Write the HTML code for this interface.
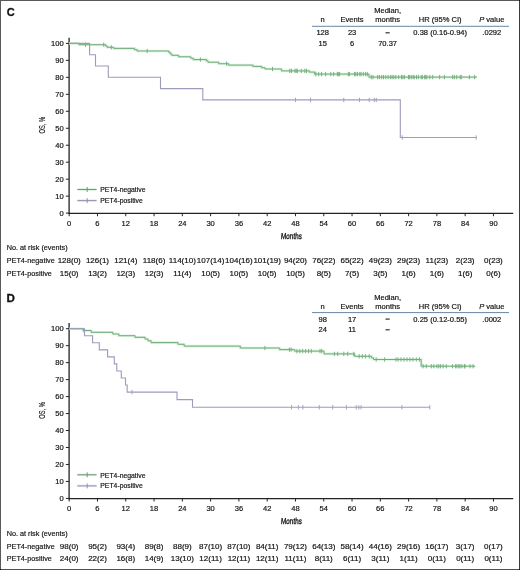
<!DOCTYPE html>
<html><head><meta charset="utf-8"><style>
html,body{margin:0;padding:0;background:#fff;}
body{width:520px;height:570px;overflow:hidden;}
svg{display:block;will-change:transform;}
text{font-family:"Liberation Sans", sans-serif;fill:#111;stroke:#111;stroke-width:0.18px;}
.t{font-size:7.55px;}
.r{font-size:7.25px;}
</style></head><body>
<svg width="520" height="570" viewBox="0 0 520 570">
<rect x="0" y="0" width="520" height="570" fill="#fff"/>
<text transform="translate(6.7 16.05) scale(0.96 1)" font-weight="bold" font-size="11.5" style="stroke-width:0.3px">C</text>
<text x="387.60" y="13.30" text-anchor="middle" font-size="7.55">Median,</text>
<text x="322.70" y="22.40" text-anchor="middle" font-size="7.55">n</text>
<text x="352.10" y="22.40" text-anchor="middle" font-size="7.55">Events</text>
<text x="387.60" y="22.40" text-anchor="middle" font-size="7.55">months</text>
<text x="440.20" y="22.40" text-anchor="middle" font-size="7.55">HR (95% CI)</text>
<text x="491.80" y="22.40" text-anchor="middle" font-size="7.55"><tspan font-style="italic">P</tspan> value</text>
<line x1="312" x2="509" y1="26.30" y2="26.30" stroke="#6a86a2" stroke-width="1"/>
<text x="322.70" y="35.40" text-anchor="middle" font-size="7.55">128</text>
<text x="352.10" y="35.40" text-anchor="middle" font-size="7.55">23</text>
<rect x="385.50" y="32.20" width="4.2" height="1.2" fill="#333"/>
<text x="440.20" y="35.40" text-anchor="middle" font-size="7.55">0.38 (0.16-0.94)</text>
<text x="491.80" y="35.40" text-anchor="middle" font-size="7.55">.0292</text>
<text x="322.70" y="45.90" text-anchor="middle" font-size="7.55">15</text>
<text x="352.10" y="45.90" text-anchor="middle" font-size="7.55">6</text>
<text x="387.60" y="45.90" text-anchor="middle" font-size="7.55">70.37</text>
<line x1="69.1" x2="69.1" y1="37.70" y2="214.00" stroke="#222" stroke-width="1.3"/>
<line x1="68.5" x2="513.2" y1="213.40" y2="213.40" stroke="#222" stroke-width="1.3"/>
<line x1="65.9" x2="69.1" y1="213.10" y2="213.10" stroke="#222" stroke-width="1"/>
<text x="63.70" y="215.70" text-anchor="end" font-size="7.55">0</text>
<line x1="65.9" x2="69.1" y1="196.13" y2="196.13" stroke="#222" stroke-width="1"/>
<text x="63.70" y="198.73" text-anchor="end" font-size="7.55">10</text>
<line x1="65.9" x2="69.1" y1="179.16" y2="179.16" stroke="#222" stroke-width="1"/>
<text x="63.70" y="181.76" text-anchor="end" font-size="7.55">20</text>
<line x1="65.9" x2="69.1" y1="162.19" y2="162.19" stroke="#222" stroke-width="1"/>
<text x="63.70" y="164.79" text-anchor="end" font-size="7.55">30</text>
<line x1="65.9" x2="69.1" y1="145.22" y2="145.22" stroke="#222" stroke-width="1"/>
<text x="63.70" y="147.82" text-anchor="end" font-size="7.55">40</text>
<line x1="65.9" x2="69.1" y1="128.25" y2="128.25" stroke="#222" stroke-width="1"/>
<text x="63.70" y="130.85" text-anchor="end" font-size="7.55">50</text>
<line x1="65.9" x2="69.1" y1="111.28" y2="111.28" stroke="#222" stroke-width="1"/>
<text x="63.70" y="113.88" text-anchor="end" font-size="7.55">60</text>
<line x1="65.9" x2="69.1" y1="94.31" y2="94.31" stroke="#222" stroke-width="1"/>
<text x="63.70" y="96.91" text-anchor="end" font-size="7.55">70</text>
<line x1="65.9" x2="69.1" y1="77.34" y2="77.34" stroke="#222" stroke-width="1"/>
<text x="63.70" y="79.94" text-anchor="end" font-size="7.55">80</text>
<line x1="65.9" x2="69.1" y1="60.37" y2="60.37" stroke="#222" stroke-width="1"/>
<text x="63.70" y="62.97" text-anchor="end" font-size="7.55">90</text>
<line x1="65.9" x2="69.1" y1="43.40" y2="43.40" stroke="#222" stroke-width="1"/>
<text x="63.70" y="46.00" text-anchor="end" font-size="7.55">100</text>
<line x1="69.20" x2="69.20" y1="213.40" y2="216.20" stroke="#222" stroke-width="1"/>
<text transform="translate(69.20 225.80) scale(0.97 1)" text-anchor="middle" font-size="7.8">0</text>
<line x1="97.48" x2="97.48" y1="213.40" y2="216.20" stroke="#222" stroke-width="1"/>
<text transform="translate(97.48 225.80) scale(0.97 1)" text-anchor="middle" font-size="7.8">6</text>
<line x1="125.77" x2="125.77" y1="213.40" y2="216.20" stroke="#222" stroke-width="1"/>
<text transform="translate(125.77 225.80) scale(0.97 1)" text-anchor="middle" font-size="7.8">12</text>
<line x1="154.05" x2="154.05" y1="213.40" y2="216.20" stroke="#222" stroke-width="1"/>
<text transform="translate(154.05 225.80) scale(0.97 1)" text-anchor="middle" font-size="7.8">18</text>
<line x1="182.34" x2="182.34" y1="213.40" y2="216.20" stroke="#222" stroke-width="1"/>
<text transform="translate(182.34 225.80) scale(0.97 1)" text-anchor="middle" font-size="7.8">24</text>
<line x1="210.62" x2="210.62" y1="213.40" y2="216.20" stroke="#222" stroke-width="1"/>
<text transform="translate(210.62 225.80) scale(0.97 1)" text-anchor="middle" font-size="7.8">30</text>
<line x1="238.90" x2="238.90" y1="213.40" y2="216.20" stroke="#222" stroke-width="1"/>
<text transform="translate(238.90 225.80) scale(0.97 1)" text-anchor="middle" font-size="7.8">36</text>
<line x1="267.19" x2="267.19" y1="213.40" y2="216.20" stroke="#222" stroke-width="1"/>
<text transform="translate(267.19 225.80) scale(0.97 1)" text-anchor="middle" font-size="7.8">42</text>
<line x1="295.47" x2="295.47" y1="213.40" y2="216.20" stroke="#222" stroke-width="1"/>
<text transform="translate(295.47 225.80) scale(0.97 1)" text-anchor="middle" font-size="7.8">48</text>
<line x1="323.76" x2="323.76" y1="213.40" y2="216.20" stroke="#222" stroke-width="1"/>
<text transform="translate(323.76 225.80) scale(0.97 1)" text-anchor="middle" font-size="7.8">54</text>
<line x1="352.04" x2="352.04" y1="213.40" y2="216.20" stroke="#222" stroke-width="1"/>
<text transform="translate(352.04 225.80) scale(0.97 1)" text-anchor="middle" font-size="7.8">60</text>
<line x1="380.32" x2="380.32" y1="213.40" y2="216.20" stroke="#222" stroke-width="1"/>
<text transform="translate(380.32 225.80) scale(0.97 1)" text-anchor="middle" font-size="7.8">66</text>
<line x1="408.61" x2="408.61" y1="213.40" y2="216.20" stroke="#222" stroke-width="1"/>
<text transform="translate(408.61 225.80) scale(0.97 1)" text-anchor="middle" font-size="7.8">72</text>
<line x1="436.89" x2="436.89" y1="213.40" y2="216.20" stroke="#222" stroke-width="1"/>
<text transform="translate(436.89 225.80) scale(0.97 1)" text-anchor="middle" font-size="7.8">78</text>
<line x1="465.18" x2="465.18" y1="213.40" y2="216.20" stroke="#222" stroke-width="1"/>
<text transform="translate(465.18 225.80) scale(0.97 1)" text-anchor="middle" font-size="7.8">84</text>
<line x1="493.46" x2="493.46" y1="213.40" y2="216.20" stroke="#222" stroke-width="1"/>
<text transform="translate(493.46 225.80) scale(0.97 1)" text-anchor="middle" font-size="7.8">90</text>
<text transform="translate(291.2 238.80) skewX(-4) scale(0.74 1)" text-anchor="middle" font-size="8.6" style="stroke-width:0.35px">Months</text>
<text transform="translate(45.0 125.20) rotate(-90) scale(0.62 1)" text-anchor="middle" font-size="9.2" style="stroke-width:0.15px">OS, %</text>
<path d="M69.2 43.40H79.00V44.70H105.60V46.00H107.20V47.30H113.70V48.40H134.50V49.70H137.20V51.00H168.80V52.40H170.30V53.90H171.80V55.30H178.50V56.80H190.80V58.20H193.30V59.60H206.50V60.90H208.00V62.20H218.60V63.70H228.60V65.10H252.90V66.40H261.50V67.70H265.00V69.00H281.50V70.90H309.40V72.10H314.60V74.10H369.00V77.10H476.90" fill="none" stroke="#d9f1dc" stroke-width="2.6"/>
<path d="M69.2 43.40H79.00V44.70H105.60V46.00H107.20V47.30H113.70V48.40H134.50V49.70H137.20V51.00H168.80V52.40H170.30V53.90H171.80V55.30H178.50V56.80H190.80V58.20H193.30V59.60H206.50V60.90H208.00V62.20H218.60V63.70H228.60V65.10H252.90V66.40H261.50V67.70H265.00V69.00H281.50V70.90H309.40V72.10H314.60V74.10H369.00V77.10H476.90" fill="none" stroke="#70ad79" stroke-width="1.0"/>
<line x1="85.50" x2="85.50" y1="42.50" y2="46.90" stroke="#70ad79" stroke-width="0.9"/>
<line x1="103.70" x2="103.70" y1="42.50" y2="46.90" stroke="#70ad79" stroke-width="0.9"/>
<line x1="111.30" x2="111.30" y1="45.10" y2="49.50" stroke="#70ad79" stroke-width="0.9"/>
<line x1="147.20" x2="147.20" y1="48.80" y2="53.20" stroke="#70ad79" stroke-width="0.9"/>
<line x1="200.40" x2="200.40" y1="57.40" y2="61.80" stroke="#70ad79" stroke-width="0.9"/>
<line x1="226.60" x2="226.60" y1="61.50" y2="65.90" stroke="#70ad79" stroke-width="0.9"/>
<line x1="272.50" x2="272.50" y1="66.80" y2="71.20" stroke="#70ad79" stroke-width="0.9"/>
<line x1="289.80" x2="289.80" y1="68.70" y2="73.10" stroke="#70ad79" stroke-width="0.9"/>
<line x1="291.50" x2="291.50" y1="68.70" y2="73.10" stroke="#70ad79" stroke-width="0.9"/>
<line x1="295.00" x2="295.00" y1="68.70" y2="73.10" stroke="#70ad79" stroke-width="0.9"/>
<line x1="296.20" x2="296.20" y1="68.70" y2="73.10" stroke="#70ad79" stroke-width="0.9"/>
<line x1="297.30" x2="297.30" y1="68.70" y2="73.10" stroke="#70ad79" stroke-width="0.9"/>
<line x1="301.30" x2="301.30" y1="68.70" y2="73.10" stroke="#70ad79" stroke-width="0.9"/>
<line x1="304.80" x2="304.80" y1="68.70" y2="73.10" stroke="#70ad79" stroke-width="0.9"/>
<line x1="306.50" x2="306.50" y1="68.70" y2="73.10" stroke="#70ad79" stroke-width="0.9"/>
<line x1="315.80" x2="315.80" y1="71.90" y2="76.30" stroke="#70ad79" stroke-width="0.9"/>
<line x1="318.70" x2="318.70" y1="71.90" y2="76.30" stroke="#70ad79" stroke-width="0.9"/>
<line x1="321.50" x2="321.50" y1="71.90" y2="76.30" stroke="#70ad79" stroke-width="0.9"/>
<line x1="325.60" x2="325.60" y1="71.90" y2="76.30" stroke="#70ad79" stroke-width="0.9"/>
<line x1="330.80" x2="330.80" y1="71.90" y2="76.30" stroke="#70ad79" stroke-width="0.9"/>
<line x1="333.70" x2="333.70" y1="71.90" y2="76.30" stroke="#70ad79" stroke-width="0.9"/>
<line x1="338.30" x2="338.30" y1="71.90" y2="76.30" stroke="#70ad79" stroke-width="0.9"/>
<line x1="337.30" x2="337.30" y1="71.90" y2="76.30" stroke="#70ad79" stroke-width="0.9"/>
<line x1="339.60" x2="339.60" y1="71.90" y2="76.30" stroke="#70ad79" stroke-width="0.9"/>
<line x1="348.30" x2="348.30" y1="71.90" y2="76.30" stroke="#70ad79" stroke-width="0.9"/>
<line x1="349.40" x2="349.40" y1="71.90" y2="76.30" stroke="#70ad79" stroke-width="0.9"/>
<line x1="354.60" x2="354.60" y1="71.90" y2="76.30" stroke="#70ad79" stroke-width="0.9"/>
<line x1="355.80" x2="355.80" y1="71.90" y2="76.30" stroke="#70ad79" stroke-width="0.9"/>
<line x1="357.50" x2="357.50" y1="71.90" y2="76.30" stroke="#70ad79" stroke-width="0.9"/>
<line x1="359.80" x2="359.80" y1="71.90" y2="76.30" stroke="#70ad79" stroke-width="0.9"/>
<line x1="361.00" x2="361.00" y1="71.90" y2="76.30" stroke="#70ad79" stroke-width="0.9"/>
<line x1="363.30" x2="363.30" y1="71.90" y2="76.30" stroke="#70ad79" stroke-width="0.9"/>
<line x1="365.60" x2="365.60" y1="71.90" y2="76.30" stroke="#70ad79" stroke-width="0.9"/>
<line x1="367.30" x2="367.30" y1="71.90" y2="76.30" stroke="#70ad79" stroke-width="0.9"/>
<line x1="371.30" x2="371.30" y1="74.90" y2="79.30" stroke="#70ad79" stroke-width="0.9"/>
<line x1="373.00" x2="373.00" y1="74.90" y2="79.30" stroke="#70ad79" stroke-width="0.9"/>
<line x1="377.70" x2="377.70" y1="74.90" y2="79.30" stroke="#70ad79" stroke-width="0.9"/>
<line x1="379.40" x2="379.40" y1="74.90" y2="79.30" stroke="#70ad79" stroke-width="0.9"/>
<line x1="381.70" x2="381.70" y1="74.90" y2="79.30" stroke="#70ad79" stroke-width="0.9"/>
<line x1="383.50" x2="383.50" y1="74.90" y2="79.30" stroke="#70ad79" stroke-width="0.9"/>
<line x1="385.80" x2="385.80" y1="74.90" y2="79.30" stroke="#70ad79" stroke-width="0.9"/>
<line x1="388.10" x2="388.10" y1="74.90" y2="79.30" stroke="#70ad79" stroke-width="0.9"/>
<line x1="390.40" x2="390.40" y1="74.90" y2="79.30" stroke="#70ad79" stroke-width="0.9"/>
<line x1="392.10" x2="392.10" y1="74.90" y2="79.30" stroke="#70ad79" stroke-width="0.9"/>
<line x1="393.80" x2="393.80" y1="74.90" y2="79.30" stroke="#70ad79" stroke-width="0.9"/>
<line x1="395.80" x2="395.80" y1="74.90" y2="79.30" stroke="#70ad79" stroke-width="0.9"/>
<line x1="398.70" x2="398.70" y1="74.90" y2="79.30" stroke="#70ad79" stroke-width="0.9"/>
<line x1="401.50" x2="401.50" y1="74.90" y2="79.30" stroke="#70ad79" stroke-width="0.9"/>
<line x1="402.90" x2="402.90" y1="74.90" y2="79.30" stroke="#70ad79" stroke-width="0.9"/>
<line x1="404.40" x2="404.40" y1="74.90" y2="79.30" stroke="#70ad79" stroke-width="0.9"/>
<line x1="408.50" x2="408.50" y1="74.90" y2="79.30" stroke="#70ad79" stroke-width="0.9"/>
<line x1="409.60" x2="409.60" y1="74.90" y2="79.30" stroke="#70ad79" stroke-width="0.9"/>
<line x1="411.30" x2="411.30" y1="74.90" y2="79.30" stroke="#70ad79" stroke-width="0.9"/>
<line x1="413.10" x2="413.10" y1="74.90" y2="79.30" stroke="#70ad79" stroke-width="0.9"/>
<line x1="414.20" x2="414.20" y1="74.90" y2="79.30" stroke="#70ad79" stroke-width="0.9"/>
<line x1="416.50" x2="416.50" y1="74.90" y2="79.30" stroke="#70ad79" stroke-width="0.9"/>
<line x1="418.30" x2="418.30" y1="74.90" y2="79.30" stroke="#70ad79" stroke-width="0.9"/>
<line x1="421.20" x2="421.20" y1="74.90" y2="79.30" stroke="#70ad79" stroke-width="0.9"/>
<line x1="422.30" x2="422.30" y1="74.90" y2="79.30" stroke="#70ad79" stroke-width="0.9"/>
<line x1="424.60" x2="424.60" y1="74.90" y2="79.30" stroke="#70ad79" stroke-width="0.9"/>
<line x1="425.80" x2="425.80" y1="74.90" y2="79.30" stroke="#70ad79" stroke-width="0.9"/>
<line x1="426.90" x2="426.90" y1="74.90" y2="79.30" stroke="#70ad79" stroke-width="0.9"/>
<line x1="429.80" x2="429.80" y1="74.90" y2="79.30" stroke="#70ad79" stroke-width="0.9"/>
<line x1="432.70" x2="432.70" y1="74.90" y2="79.30" stroke="#70ad79" stroke-width="0.9"/>
<line x1="439.60" x2="439.60" y1="74.90" y2="79.30" stroke="#70ad79" stroke-width="0.9"/>
<line x1="444.40" x2="444.40" y1="74.90" y2="79.30" stroke="#70ad79" stroke-width="0.9"/>
<line x1="452.70" x2="452.70" y1="74.90" y2="79.30" stroke="#70ad79" stroke-width="0.9"/>
<line x1="454.40" x2="454.40" y1="74.90" y2="79.30" stroke="#70ad79" stroke-width="0.9"/>
<line x1="456.70" x2="456.70" y1="74.90" y2="79.30" stroke="#70ad79" stroke-width="0.9"/>
<line x1="460.20" x2="460.20" y1="74.90" y2="79.30" stroke="#70ad79" stroke-width="0.9"/>
<line x1="461.30" x2="461.30" y1="74.90" y2="79.30" stroke="#70ad79" stroke-width="0.9"/>
<line x1="469.40" x2="469.40" y1="74.90" y2="79.30" stroke="#70ad79" stroke-width="0.9"/>
<line x1="474.60" x2="474.60" y1="74.90" y2="79.30" stroke="#70ad79" stroke-width="0.9"/>
<path d="M69.2 43.40H89.60V54.70H95.50V66.00H108.30V77.30H160.50V88.60H202.80V99.90H400.30V137.50H476.40" fill="none" stroke="#9c9cbc" stroke-width="1.1"/>
<line x1="295.50" x2="295.50" y1="97.70" y2="102.10" stroke="#9c9cbc" stroke-width="0.9"/>
<line x1="310.50" x2="310.50" y1="97.70" y2="102.10" stroke="#9c9cbc" stroke-width="0.9"/>
<line x1="343.75" x2="343.75" y1="97.70" y2="102.10" stroke="#9c9cbc" stroke-width="0.9"/>
<line x1="359.50" x2="359.50" y1="97.70" y2="102.10" stroke="#9c9cbc" stroke-width="0.9"/>
<line x1="369.25" x2="369.25" y1="97.70" y2="102.10" stroke="#9c9cbc" stroke-width="0.9"/>
<line x1="374.25" x2="374.25" y1="97.70" y2="102.10" stroke="#9c9cbc" stroke-width="0.9"/>
<line x1="376.25" x2="376.25" y1="97.70" y2="102.10" stroke="#9c9cbc" stroke-width="0.9"/>
<line x1="402.30" x2="402.30" y1="135.30" y2="139.70" stroke="#9c9cbc" stroke-width="0.9"/>
<line x1="476.20" x2="476.20" y1="135.30" y2="139.70" stroke="#9c9cbc" stroke-width="0.9"/>
<line x1="77.3" x2="96.6" y1="189.50" y2="189.50" stroke="#d3f0d8" stroke-width="2.4"/>
<line x1="77.3" x2="96.6" y1="189.50" y2="189.50" stroke="#6a8f70" stroke-width="0.9"/>
<line x1="87.2" x2="87.2" y1="187.00" y2="192.00" stroke="#6a8f70" stroke-width="0.9"/>
<text transform="translate(100.30 192.40) scale(0.95 1)" font-size="7.2">PET4-negative</text>
<line x1="77.3" x2="96.6" y1="200.60" y2="200.60" stroke="#e4e4f3" stroke-width="2.4"/>
<line x1="77.3" x2="96.6" y1="200.60" y2="200.60" stroke="#8a8aab" stroke-width="0.9"/>
<line x1="87.2" x2="87.2" y1="198.10" y2="203.10" stroke="#8a8aab" stroke-width="0.9"/>
<text transform="translate(100.30 203.00) scale(0.95 1)" font-size="7.2">PET4-positive</text>
<text transform="translate(6.70 250.40) scale(0.92 1)" font-size="7.9">No. at risk (events)</text>
<text transform="translate(6.70 263.40) scale(0.92 1)" font-size="7.9">PET4-negative</text>
<text x="69.20" y="263.40" text-anchor="middle" font-size="8.0">128(0)</text>
<text x="97.48" y="263.40" text-anchor="middle" font-size="8.0">126(1)</text>
<text x="125.77" y="263.40" text-anchor="middle" font-size="8.0">121(4)</text>
<text x="154.05" y="263.40" text-anchor="middle" font-size="8.0">118(6)</text>
<text x="182.34" y="263.40" text-anchor="middle" font-size="8.0">114(10)</text>
<text x="210.62" y="263.40" text-anchor="middle" font-size="8.0">107(14)</text>
<text x="238.90" y="263.40" text-anchor="middle" font-size="8.0">104(16)</text>
<text x="267.19" y="263.40" text-anchor="middle" font-size="8.0">101(19)</text>
<text x="295.47" y="263.40" text-anchor="middle" font-size="8.0">94(20)</text>
<text x="323.76" y="263.40" text-anchor="middle" font-size="8.0">76(22)</text>
<text x="352.04" y="263.40" text-anchor="middle" font-size="8.0">65(22)</text>
<text x="380.32" y="263.40" text-anchor="middle" font-size="8.0">49(23)</text>
<text x="408.61" y="263.40" text-anchor="middle" font-size="8.0">29(23)</text>
<text x="436.89" y="263.40" text-anchor="middle" font-size="8.0">11(23)</text>
<text x="465.18" y="263.40" text-anchor="middle" font-size="8.0">2(23)</text>
<text x="493.46" y="263.40" text-anchor="middle" font-size="8.0">0(23)</text>
<text transform="translate(6.70 275.70) scale(0.92 1)" font-size="7.9">PET4-positive</text>
<text x="69.20" y="275.70" text-anchor="middle" font-size="8.0">15(0)</text>
<text x="97.48" y="275.70" text-anchor="middle" font-size="8.0">13(2)</text>
<text x="125.77" y="275.70" text-anchor="middle" font-size="8.0">12(3)</text>
<text x="154.05" y="275.70" text-anchor="middle" font-size="8.0">12(3)</text>
<text x="182.34" y="275.70" text-anchor="middle" font-size="8.0">11(4)</text>
<text x="210.62" y="275.70" text-anchor="middle" font-size="8.0">10(5)</text>
<text x="238.90" y="275.70" text-anchor="middle" font-size="8.0">10(5)</text>
<text x="267.19" y="275.70" text-anchor="middle" font-size="8.0">10(5)</text>
<text x="295.47" y="275.70" text-anchor="middle" font-size="8.0">10(5)</text>
<text x="323.76" y="275.70" text-anchor="middle" font-size="8.0">8(5)</text>
<text x="352.04" y="275.70" text-anchor="middle" font-size="8.0">7(5)</text>
<text x="380.32" y="275.70" text-anchor="middle" font-size="8.0">3(5)</text>
<text x="408.61" y="275.70" text-anchor="middle" font-size="8.0">1(6)</text>
<text x="436.89" y="275.70" text-anchor="middle" font-size="8.0">1(6)</text>
<text x="465.18" y="275.70" text-anchor="middle" font-size="8.0">1(6)</text>
<text x="493.46" y="275.70" text-anchor="middle" font-size="8.0">0(6)</text>
<text transform="translate(6.6 301.80) scale(1.0 1)" font-weight="bold" font-size="11.6" style="stroke-width:0.3px">D</text>
<text x="387.60" y="299.60" text-anchor="middle" font-size="7.55">Median,</text>
<text x="322.70" y="308.70" text-anchor="middle" font-size="7.55">n</text>
<text x="352.10" y="308.70" text-anchor="middle" font-size="7.55">Events</text>
<text x="387.60" y="308.70" text-anchor="middle" font-size="7.55">months</text>
<text x="440.20" y="308.70" text-anchor="middle" font-size="7.55">HR (95% CI)</text>
<text x="491.80" y="308.70" text-anchor="middle" font-size="7.55"><tspan font-style="italic">P</tspan> value</text>
<line x1="312" x2="509" y1="312.60" y2="312.60" stroke="#6a86a2" stroke-width="1"/>
<text x="322.70" y="321.70" text-anchor="middle" font-size="7.55">98</text>
<text x="352.10" y="321.70" text-anchor="middle" font-size="7.55">17</text>
<rect x="385.50" y="318.50" width="4.2" height="1.2" fill="#333"/>
<text x="440.20" y="321.70" text-anchor="middle" font-size="7.55">0.25 (0.12-0.55)</text>
<text x="491.80" y="321.70" text-anchor="middle" font-size="7.55">.0002</text>
<text x="322.70" y="332.20" text-anchor="middle" font-size="7.55">24</text>
<text x="352.10" y="332.20" text-anchor="middle" font-size="7.55">11</text>
<rect x="385.50" y="329.20" width="4.2" height="1.2" fill="#333"/>
<line x1="69.1" x2="69.1" y1="323.00" y2="499.30" stroke="#222" stroke-width="1.3"/>
<line x1="68.5" x2="513.2" y1="498.70" y2="498.70" stroke="#222" stroke-width="1.3"/>
<line x1="65.9" x2="69.1" y1="498.40" y2="498.40" stroke="#222" stroke-width="1"/>
<text x="63.70" y="501.00" text-anchor="end" font-size="7.55">0</text>
<line x1="65.9" x2="69.1" y1="481.43" y2="481.43" stroke="#222" stroke-width="1"/>
<text x="63.70" y="484.03" text-anchor="end" font-size="7.55">10</text>
<line x1="65.9" x2="69.1" y1="464.46" y2="464.46" stroke="#222" stroke-width="1"/>
<text x="63.70" y="467.06" text-anchor="end" font-size="7.55">20</text>
<line x1="65.9" x2="69.1" y1="447.49" y2="447.49" stroke="#222" stroke-width="1"/>
<text x="63.70" y="450.09" text-anchor="end" font-size="7.55">30</text>
<line x1="65.9" x2="69.1" y1="430.52" y2="430.52" stroke="#222" stroke-width="1"/>
<text x="63.70" y="433.12" text-anchor="end" font-size="7.55">40</text>
<line x1="65.9" x2="69.1" y1="413.55" y2="413.55" stroke="#222" stroke-width="1"/>
<text x="63.70" y="416.15" text-anchor="end" font-size="7.55">50</text>
<line x1="65.9" x2="69.1" y1="396.58" y2="396.58" stroke="#222" stroke-width="1"/>
<text x="63.70" y="399.18" text-anchor="end" font-size="7.55">60</text>
<line x1="65.9" x2="69.1" y1="379.61" y2="379.61" stroke="#222" stroke-width="1"/>
<text x="63.70" y="382.21" text-anchor="end" font-size="7.55">70</text>
<line x1="65.9" x2="69.1" y1="362.64" y2="362.64" stroke="#222" stroke-width="1"/>
<text x="63.70" y="365.24" text-anchor="end" font-size="7.55">80</text>
<line x1="65.9" x2="69.1" y1="345.67" y2="345.67" stroke="#222" stroke-width="1"/>
<text x="63.70" y="348.27" text-anchor="end" font-size="7.55">90</text>
<line x1="65.9" x2="69.1" y1="328.70" y2="328.70" stroke="#222" stroke-width="1"/>
<text x="63.70" y="331.30" text-anchor="end" font-size="7.55">100</text>
<line x1="69.20" x2="69.20" y1="498.70" y2="501.50" stroke="#222" stroke-width="1"/>
<text transform="translate(69.20 511.10) scale(0.97 1)" text-anchor="middle" font-size="7.8">0</text>
<line x1="97.48" x2="97.48" y1="498.70" y2="501.50" stroke="#222" stroke-width="1"/>
<text transform="translate(97.48 511.10) scale(0.97 1)" text-anchor="middle" font-size="7.8">6</text>
<line x1="125.77" x2="125.77" y1="498.70" y2="501.50" stroke="#222" stroke-width="1"/>
<text transform="translate(125.77 511.10) scale(0.97 1)" text-anchor="middle" font-size="7.8">12</text>
<line x1="154.05" x2="154.05" y1="498.70" y2="501.50" stroke="#222" stroke-width="1"/>
<text transform="translate(154.05 511.10) scale(0.97 1)" text-anchor="middle" font-size="7.8">18</text>
<line x1="182.34" x2="182.34" y1="498.70" y2="501.50" stroke="#222" stroke-width="1"/>
<text transform="translate(182.34 511.10) scale(0.97 1)" text-anchor="middle" font-size="7.8">24</text>
<line x1="210.62" x2="210.62" y1="498.70" y2="501.50" stroke="#222" stroke-width="1"/>
<text transform="translate(210.62 511.10) scale(0.97 1)" text-anchor="middle" font-size="7.8">30</text>
<line x1="238.90" x2="238.90" y1="498.70" y2="501.50" stroke="#222" stroke-width="1"/>
<text transform="translate(238.90 511.10) scale(0.97 1)" text-anchor="middle" font-size="7.8">36</text>
<line x1="267.19" x2="267.19" y1="498.70" y2="501.50" stroke="#222" stroke-width="1"/>
<text transform="translate(267.19 511.10) scale(0.97 1)" text-anchor="middle" font-size="7.8">42</text>
<line x1="295.47" x2="295.47" y1="498.70" y2="501.50" stroke="#222" stroke-width="1"/>
<text transform="translate(295.47 511.10) scale(0.97 1)" text-anchor="middle" font-size="7.8">48</text>
<line x1="323.76" x2="323.76" y1="498.70" y2="501.50" stroke="#222" stroke-width="1"/>
<text transform="translate(323.76 511.10) scale(0.97 1)" text-anchor="middle" font-size="7.8">54</text>
<line x1="352.04" x2="352.04" y1="498.70" y2="501.50" stroke="#222" stroke-width="1"/>
<text transform="translate(352.04 511.10) scale(0.97 1)" text-anchor="middle" font-size="7.8">60</text>
<line x1="380.32" x2="380.32" y1="498.70" y2="501.50" stroke="#222" stroke-width="1"/>
<text transform="translate(380.32 511.10) scale(0.97 1)" text-anchor="middle" font-size="7.8">66</text>
<line x1="408.61" x2="408.61" y1="498.70" y2="501.50" stroke="#222" stroke-width="1"/>
<text transform="translate(408.61 511.10) scale(0.97 1)" text-anchor="middle" font-size="7.8">72</text>
<line x1="436.89" x2="436.89" y1="498.70" y2="501.50" stroke="#222" stroke-width="1"/>
<text transform="translate(436.89 511.10) scale(0.97 1)" text-anchor="middle" font-size="7.8">78</text>
<line x1="465.18" x2="465.18" y1="498.70" y2="501.50" stroke="#222" stroke-width="1"/>
<text transform="translate(465.18 511.10) scale(0.97 1)" text-anchor="middle" font-size="7.8">84</text>
<line x1="493.46" x2="493.46" y1="498.70" y2="501.50" stroke="#222" stroke-width="1"/>
<text transform="translate(493.46 511.10) scale(0.97 1)" text-anchor="middle" font-size="7.8">90</text>
<text transform="translate(291.2 524.10) skewX(-4) scale(0.74 1)" text-anchor="middle" font-size="8.6" style="stroke-width:0.35px">Months</text>
<text transform="translate(45.0 410.50) rotate(-90) scale(0.62 1)" text-anchor="middle" font-size="9.2" style="stroke-width:0.15px">OS, %</text>
<path d="M69.2 328.70H83.00V330.50H91.20V332.30H112.80V334.00H118.80V335.70H135.00V337.30H145.00V339.00H148.00V340.80H151.20V342.60H178.00V344.30H184.20V346.10H240.30V348.00H279.60V349.60H294.60V351.10H324.00V353.90H354.60V356.30H371.50V357.90H373.50V359.50H421.20V366.20H475.20" fill="none" stroke="#d9f1dc" stroke-width="2.6"/>
<path d="M69.2 328.70H83.00V330.50H91.20V332.30H112.80V334.00H118.80V335.70H135.00V337.30H145.00V339.00H148.00V340.80H151.20V342.60H178.00V344.30H184.20V346.10H240.30V348.00H279.60V349.60H294.60V351.10H324.00V353.90H354.60V356.30H371.50V357.90H373.50V359.50H421.20V366.20H475.20" fill="none" stroke="#70ad79" stroke-width="1.0"/>
<line x1="84.00" x2="84.00" y1="328.30" y2="332.70" stroke="#70ad79" stroke-width="0.9"/>
<line x1="264.90" x2="264.90" y1="345.80" y2="350.20" stroke="#70ad79" stroke-width="0.9"/>
<line x1="289.40" x2="289.40" y1="347.40" y2="351.80" stroke="#70ad79" stroke-width="0.9"/>
<line x1="291.20" x2="291.20" y1="347.40" y2="351.80" stroke="#70ad79" stroke-width="0.9"/>
<line x1="296.90" x2="296.90" y1="348.90" y2="353.30" stroke="#70ad79" stroke-width="0.9"/>
<line x1="299.80" x2="299.80" y1="348.90" y2="353.30" stroke="#70ad79" stroke-width="0.9"/>
<line x1="302.70" x2="302.70" y1="348.90" y2="353.30" stroke="#70ad79" stroke-width="0.9"/>
<line x1="305.60" x2="305.60" y1="348.90" y2="353.30" stroke="#70ad79" stroke-width="0.9"/>
<line x1="308.50" x2="308.50" y1="348.90" y2="353.30" stroke="#70ad79" stroke-width="0.9"/>
<line x1="311.30" x2="311.30" y1="348.90" y2="353.30" stroke="#70ad79" stroke-width="0.9"/>
<line x1="320.00" x2="320.00" y1="348.90" y2="353.30" stroke="#70ad79" stroke-width="0.9"/>
<line x1="321.70" x2="321.70" y1="348.90" y2="353.30" stroke="#70ad79" stroke-width="0.9"/>
<line x1="334.40" x2="334.40" y1="351.70" y2="356.10" stroke="#70ad79" stroke-width="0.9"/>
<line x1="337.70" x2="337.70" y1="351.70" y2="356.10" stroke="#70ad79" stroke-width="0.9"/>
<line x1="343.80" x2="343.80" y1="351.70" y2="356.10" stroke="#70ad79" stroke-width="0.9"/>
<line x1="347.70" x2="347.70" y1="351.70" y2="356.10" stroke="#70ad79" stroke-width="0.9"/>
<line x1="353.80" x2="353.80" y1="351.70" y2="356.10" stroke="#70ad79" stroke-width="0.9"/>
<line x1="359.20" x2="359.20" y1="354.10" y2="358.50" stroke="#70ad79" stroke-width="0.9"/>
<line x1="362.30" x2="362.30" y1="354.10" y2="358.50" stroke="#70ad79" stroke-width="0.9"/>
<line x1="365.40" x2="365.40" y1="354.10" y2="358.50" stroke="#70ad79" stroke-width="0.9"/>
<line x1="369.20" x2="369.20" y1="354.10" y2="358.50" stroke="#70ad79" stroke-width="0.9"/>
<line x1="376.20" x2="376.20" y1="357.30" y2="361.70" stroke="#70ad79" stroke-width="0.9"/>
<line x1="384.60" x2="384.60" y1="357.30" y2="361.70" stroke="#70ad79" stroke-width="0.9"/>
<line x1="396.00" x2="396.00" y1="357.30" y2="361.70" stroke="#70ad79" stroke-width="0.9"/>
<line x1="398.00" x2="398.00" y1="357.30" y2="361.70" stroke="#70ad79" stroke-width="0.9"/>
<line x1="401.00" x2="401.00" y1="357.30" y2="361.70" stroke="#70ad79" stroke-width="0.9"/>
<line x1="404.00" x2="404.00" y1="357.30" y2="361.70" stroke="#70ad79" stroke-width="0.9"/>
<line x1="407.00" x2="407.00" y1="357.30" y2="361.70" stroke="#70ad79" stroke-width="0.9"/>
<line x1="410.00" x2="410.00" y1="357.30" y2="361.70" stroke="#70ad79" stroke-width="0.9"/>
<line x1="413.00" x2="413.00" y1="357.30" y2="361.70" stroke="#70ad79" stroke-width="0.9"/>
<line x1="416.30" x2="416.30" y1="357.30" y2="361.70" stroke="#70ad79" stroke-width="0.9"/>
<line x1="419.40" x2="419.40" y1="357.30" y2="361.70" stroke="#70ad79" stroke-width="0.9"/>
<line x1="423.10" x2="423.10" y1="364.00" y2="368.40" stroke="#70ad79" stroke-width="0.9"/>
<line x1="426.30" x2="426.30" y1="364.00" y2="368.40" stroke="#70ad79" stroke-width="0.9"/>
<line x1="431.30" x2="431.30" y1="364.00" y2="368.40" stroke="#70ad79" stroke-width="0.9"/>
<line x1="433.80" x2="433.80" y1="364.00" y2="368.40" stroke="#70ad79" stroke-width="0.9"/>
<line x1="436.90" x2="436.90" y1="364.00" y2="368.40" stroke="#70ad79" stroke-width="0.9"/>
<line x1="438.80" x2="438.80" y1="364.00" y2="368.40" stroke="#70ad79" stroke-width="0.9"/>
<line x1="440.60" x2="440.60" y1="364.00" y2="368.40" stroke="#70ad79" stroke-width="0.9"/>
<line x1="443.10" x2="443.10" y1="364.00" y2="368.40" stroke="#70ad79" stroke-width="0.9"/>
<line x1="446.30" x2="446.30" y1="364.00" y2="368.40" stroke="#70ad79" stroke-width="0.9"/>
<line x1="452.50" x2="452.50" y1="364.00" y2="368.40" stroke="#70ad79" stroke-width="0.9"/>
<line x1="455.60" x2="455.60" y1="364.00" y2="368.40" stroke="#70ad79" stroke-width="0.9"/>
<line x1="456.90" x2="456.90" y1="364.00" y2="368.40" stroke="#70ad79" stroke-width="0.9"/>
<line x1="458.80" x2="458.80" y1="364.00" y2="368.40" stroke="#70ad79" stroke-width="0.9"/>
<line x1="460.00" x2="460.00" y1="364.00" y2="368.40" stroke="#70ad79" stroke-width="0.9"/>
<line x1="461.90" x2="461.90" y1="364.00" y2="368.40" stroke="#70ad79" stroke-width="0.9"/>
<line x1="464.40" x2="464.40" y1="364.00" y2="368.40" stroke="#70ad79" stroke-width="0.9"/>
<line x1="465.00" x2="465.00" y1="364.00" y2="368.40" stroke="#70ad79" stroke-width="0.9"/>
<line x1="470.00" x2="470.00" y1="364.00" y2="368.40" stroke="#70ad79" stroke-width="0.9"/>
<line x1="473.10" x2="473.10" y1="364.00" y2="368.40" stroke="#70ad79" stroke-width="0.9"/>
<path d="M69.2 328.70H84.50V335.80H92.60V342.80H99.30V349.90H107.60V356.90H114.30V363.90H116.80V371.00H121.30V378.00H125.50V385.00H127.20V392.10H177.00V399.60H192.50V407.30H430.00" fill="none" stroke="#9c9cbc" stroke-width="1.1"/>
<line x1="131.90" x2="131.90" y1="389.90" y2="394.30" stroke="#9c9cbc" stroke-width="0.9"/>
<line x1="291.50" x2="291.50" y1="405.10" y2="409.50" stroke="#9c9cbc" stroke-width="0.9"/>
<line x1="298.40" x2="298.40" y1="405.10" y2="409.50" stroke="#9c9cbc" stroke-width="0.9"/>
<line x1="302.90" x2="302.90" y1="405.10" y2="409.50" stroke="#9c9cbc" stroke-width="0.9"/>
<line x1="319.30" x2="319.30" y1="405.10" y2="409.50" stroke="#9c9cbc" stroke-width="0.9"/>
<line x1="332.70" x2="332.70" y1="405.10" y2="409.50" stroke="#9c9cbc" stroke-width="0.9"/>
<line x1="346.40" x2="346.40" y1="405.10" y2="409.50" stroke="#9c9cbc" stroke-width="0.9"/>
<line x1="356.20" x2="356.20" y1="405.10" y2="409.50" stroke="#9c9cbc" stroke-width="0.9"/>
<line x1="358.80" x2="358.80" y1="405.10" y2="409.50" stroke="#9c9cbc" stroke-width="0.9"/>
<line x1="361.10" x2="361.10" y1="405.10" y2="409.50" stroke="#9c9cbc" stroke-width="0.9"/>
<line x1="401.90" x2="401.90" y1="405.10" y2="409.50" stroke="#9c9cbc" stroke-width="0.9"/>
<line x1="429.80" x2="429.80" y1="405.10" y2="409.50" stroke="#9c9cbc" stroke-width="0.9"/>
<line x1="77.3" x2="96.6" y1="474.80" y2="474.80" stroke="#d3f0d8" stroke-width="2.4"/>
<line x1="77.3" x2="96.6" y1="474.80" y2="474.80" stroke="#6a8f70" stroke-width="0.9"/>
<line x1="87.2" x2="87.2" y1="472.30" y2="477.30" stroke="#6a8f70" stroke-width="0.9"/>
<text transform="translate(100.30 477.70) scale(0.95 1)" font-size="7.2">PET4-negative</text>
<line x1="77.3" x2="96.6" y1="485.90" y2="485.90" stroke="#e4e4f3" stroke-width="2.4"/>
<line x1="77.3" x2="96.6" y1="485.90" y2="485.90" stroke="#8a8aab" stroke-width="0.9"/>
<line x1="87.2" x2="87.2" y1="483.40" y2="488.40" stroke="#8a8aab" stroke-width="0.9"/>
<text transform="translate(100.30 488.30) scale(0.95 1)" font-size="7.2">PET4-positive</text>
<text transform="translate(6.70 535.70) scale(0.92 1)" font-size="7.9">No. at risk (events)</text>
<text transform="translate(6.70 548.70) scale(0.92 1)" font-size="7.9">PET4-negative</text>
<text x="69.20" y="548.70" text-anchor="middle" font-size="8.0">98(0)</text>
<text x="97.48" y="548.70" text-anchor="middle" font-size="8.0">95(2)</text>
<text x="125.77" y="548.70" text-anchor="middle" font-size="8.0">93(4)</text>
<text x="154.05" y="548.70" text-anchor="middle" font-size="8.0">89(8)</text>
<text x="182.34" y="548.70" text-anchor="middle" font-size="8.0">88(9)</text>
<text x="210.62" y="548.70" text-anchor="middle" font-size="8.0">87(10)</text>
<text x="238.90" y="548.70" text-anchor="middle" font-size="8.0">87(10)</text>
<text x="267.19" y="548.70" text-anchor="middle" font-size="8.0">84(11)</text>
<text x="295.47" y="548.70" text-anchor="middle" font-size="8.0">79(12)</text>
<text x="323.76" y="548.70" text-anchor="middle" font-size="8.0">64(13)</text>
<text x="352.04" y="548.70" text-anchor="middle" font-size="8.0">58(14)</text>
<text x="380.32" y="548.70" text-anchor="middle" font-size="8.0">44(16)</text>
<text x="408.61" y="548.70" text-anchor="middle" font-size="8.0">29(16)</text>
<text x="436.89" y="548.70" text-anchor="middle" font-size="8.0">16(17)</text>
<text x="465.18" y="548.70" text-anchor="middle" font-size="8.0">3(17)</text>
<text x="493.46" y="548.70" text-anchor="middle" font-size="8.0">0(17)</text>
<text transform="translate(6.70 561.00) scale(0.92 1)" font-size="7.9">PET4-positive</text>
<text x="69.20" y="561.00" text-anchor="middle" font-size="8.0">24(0)</text>
<text x="97.48" y="561.00" text-anchor="middle" font-size="8.0">22(2)</text>
<text x="125.77" y="561.00" text-anchor="middle" font-size="8.0">16(8)</text>
<text x="154.05" y="561.00" text-anchor="middle" font-size="8.0">14(9)</text>
<text x="182.34" y="561.00" text-anchor="middle" font-size="8.0">13(10)</text>
<text x="210.62" y="561.00" text-anchor="middle" font-size="8.0">12(11)</text>
<text x="238.90" y="561.00" text-anchor="middle" font-size="8.0">12(11)</text>
<text x="267.19" y="561.00" text-anchor="middle" font-size="8.0">12(11)</text>
<text x="295.47" y="561.00" text-anchor="middle" font-size="8.0">11(11)</text>
<text x="323.76" y="561.00" text-anchor="middle" font-size="8.0">8(11)</text>
<text x="352.04" y="561.00" text-anchor="middle" font-size="8.0">6(11)</text>
<text x="380.32" y="561.00" text-anchor="middle" font-size="8.0">3(11)</text>
<text x="408.61" y="561.00" text-anchor="middle" font-size="8.0">1(11)</text>
<text x="436.89" y="561.00" text-anchor="middle" font-size="8.0">0(11)</text>
<text x="465.18" y="561.00" text-anchor="middle" font-size="8.0">0(11)</text>
<text x="493.46" y="561.00" text-anchor="middle" font-size="8.0">0(11)</text>
<rect x="0" y="0" width="520" height="1" fill="#585858"/>
<rect x="0" y="0" width="1" height="570" fill="#5a5a5a"/>
<rect x="0" y="569" width="520" height="1" fill="#505050"/>
<rect x="519" y="0" width="1" height="570" fill="#3c3c3c"/>
<rect x="519" y="0" width="1" height="1" fill="#111"/>
<rect x="0" y="569" width="1" height="1" fill="#111"/>
<rect x="519" y="569" width="1" height="1" fill="#111"/>
</svg>
</body></html>
